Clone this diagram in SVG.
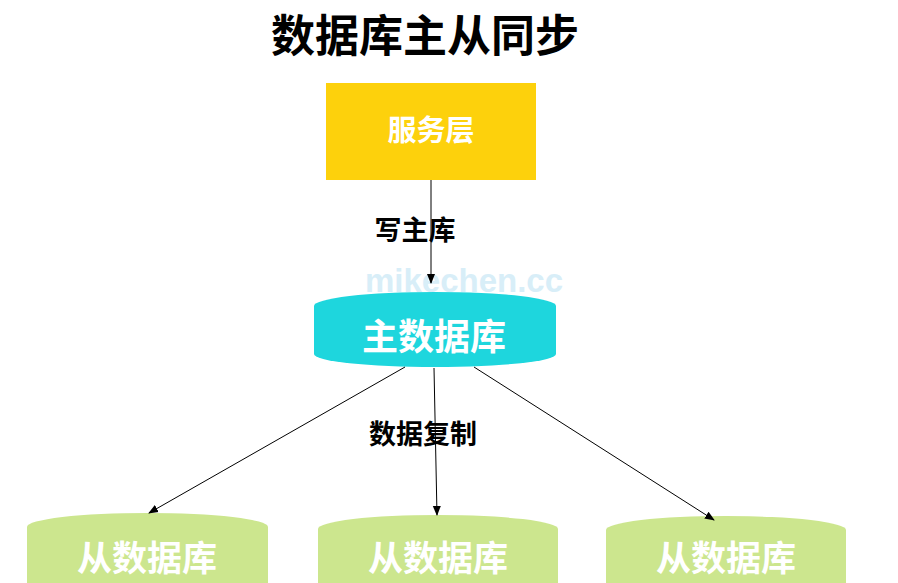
<svg xmlns="http://www.w3.org/2000/svg" width="898" height="583" viewBox="0 0 898 583">
<style>
.t{font-family:"Noto Sans CJK SC","Liberation Sans",sans-serif;font-weight:bold;text-anchor:middle}
.w{fill:#ffffff}
.k{fill:#000000}
.c{stroke:#000;stroke-width:1;fill:none}
</style>
<defs>
<marker id="ah" markerWidth="10" markerHeight="10" refX="9" refY="5" orient="auto" markerUnits="userSpaceOnUse">
<path d="M0,1 L10,5 L0,9 Z" fill="#000"/>
</marker>
</defs>
<rect width="898" height="583" fill="#ffffff"/>
<text class="t k" x="425" y="52" font-size="44">数据库主从同步</text>
<g id="service">
<rect x="326" y="83" width="210" height="97" fill="#FDD10C"/>
<text class="t w" x="431" y="141" font-size="29">服务层</text>
</g>
<text x="464" y="292" font-family="Liberation Sans,sans-serif" font-weight="bold" font-size="33" fill="#d8eef8" text-anchor="middle">mikechen.cc</text>
<g id="master">
<path d="M314,306 A121,14 0 0 1 556,306 L556,354 A121,13 0 0 1 314,354 Z" fill="#1ED6DD"/>
<text class="t w" x="434" y="350" font-size="36">主数据库</text>
</g>
<g id="slave1">
<path d="M27,527 A120,14 0 0 1 268,527 L268,600 L27,600 Z" fill="#CCE68E"/>
<text class="t w" x="147" y="571" font-size="35">从数据库</text>
</g>
<g id="slave2">
<path d="M318,529 A120,14 0 0 1 558,529 L558,600 L318,600 Z" fill="#CCE68E"/>
<text class="t w" x="438" y="571" font-size="35">从数据库</text>
</g>
<g id="slave3">
<path d="M606,530 A120,14 0 0 1 846,530 L846,600 L606,600 Z" fill="#CCE68E"/>
<text class="t w" x="726" y="571" font-size="35">从数据库</text>
</g>
<g id="connectors">
<line class="c" x1="431" y1="180" x2="431" y2="283" marker-end="url(#ah)"/>
<line class="c" x1="405" y1="367" x2="149" y2="513" marker-end="url(#ah)"/>
<line class="c" x1="434" y1="368" x2="437" y2="515" marker-end="url(#ah)"/>
<line class="c" x1="474" y1="367" x2="714" y2="520" marker-end="url(#ah)"/>
<text class="t k" x="415" y="240" font-size="27">写主库</text>
<text class="t k" x="423" y="444" font-size="27">数据复制</text>
</g>
</svg>
